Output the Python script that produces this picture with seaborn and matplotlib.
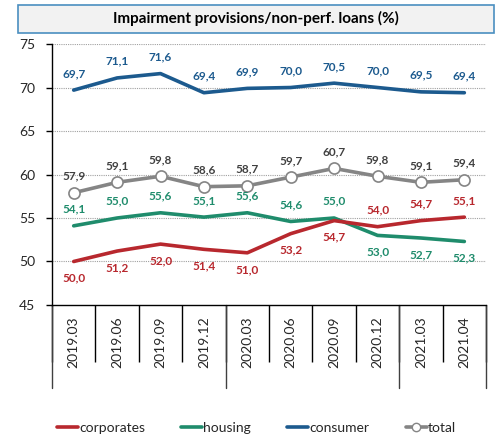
import numpy as np
import pandas as pd
import matplotlib
matplotlib.use("Agg")
import matplotlib.pyplot as plt
import matplotlib.patches as mpatches
from matplotlib.lines import Line2D
import seaborn as sns

categories = ["2019.03", "2019.06", "2019.09", "2019.12", "2020.03",
              "2020.06", "2020.09", "2020.12", "2021.03", "2021.04"]
corporates = [50.0, 51.2, 52.0, 51.4, 51.0, 53.2, 54.7, 54.0, 54.7, 55.1]
housing = [54.1, 55.0, 55.6, 55.1, 55.6, 54.6, 55.0, 53.0, 52.7, 52.3]
consumer = [69.7, 71.1, 71.6, 69.4, 69.9, 70.0, 70.5, 70.0, 69.5, 69.4]
total = [57.9, 59.1, 59.8, 58.6, 58.7, 59.7, 60.7, 59.8, 59.1, 59.4]
yticks = [45, 50, 55, 60, 65, 70, 75]
title = "Impairment provisions/non-perf. loans (%)"

# label placement: +1 above, -1 below
corp_pos = [-1, -1, -1, -1, -1, -1, -1, 1, 1, 1]
hous_pos = [1, 1, 1, 1, 1, 1, 1, -1, -1, -1]

sns.set_style("white")
plt.rcParams["font.family"] = ["Lato", "DejaVu Sans"]

colors = {"corporates": "#b8282e", "housing": "#1f8c6c",
          "consumer": "#1c5a8e", "total": "#858585"}
label_colors = {"corporates": "#b8282e", "housing": "#1f8c6c",
                "consumer": "#1c5a8e", "total": "#404040"}

fig = plt.figure(figsize=(4.98, 4.41), dpi=100)
ax = fig.add_axes([0.1044, 0.3084, 0.8716, 0.5918])

x = np.arange(len(categories))
series = [("total", total, [1] * 10),
          ("housing", housing, hous_pos),
          ("corporates", corporates, corp_pos),
          ("consumer", consumer, [1] * 10)]

for name, vals, pos in series:
    df = pd.DataFrame({"x": x, "y": vals})
    if name == "total":
        sns.lineplot(data=df, x="x", y="y", ax=ax, color=colors[name], lw=2.6,
                     marker="o", markersize=8, markerfacecolor="white",
                     markeredgecolor=colors[name], markeredgewidth=1.2, zorder=3)
    else:
        sns.lineplot(data=df, x="x", y="y", ax=ax, color=colors[name], lw=2.6, zorder=3)
    for xi, v, p in zip(x, vals, pos):
        ax.annotate(f"{v:.1f}".replace(".", ","), (xi, v),
                    xytext=(0, 12 * p), textcoords="offset points",
                    ha="center", va="center", fontsize=8.5, fontweight="bold",
                    color=label_colors[name])

ax.set_xlim(-0.5, len(categories) - 0.5)
ax.set_ylim(45, 75)
ax.set_yticks(yticks)
ax.set_yticklabels([str(t) for t in yticks], fontsize=10)
ax.tick_params(axis="y", which="major", length=4, width=1, direction="out",
               left=True, pad=8, color="black")
for t in yticks[1:]:
    ax.axhline(t, color="#a0a0a0", lw=0.8, ls=(0, (1, 1)), zorder=1)

ax.set_xticks(x)
ax.set_xticklabels(categories, rotation=90, fontsize=10, va="top")
ax.tick_params(axis="x", which="major", length=0, pad=8)
ax.set_xticks(np.arange(-0.5, len(categories), 1.0), minor=True)
ax.tick_params(axis="x", which="minor", length=41, width=1, color="black",
               direction="out", bottom=True)
ax.set_xlabel("")
ax.set_ylabel("")

for s in ["top", "right"]:
    ax.spines[s].set_visible(False)
for s in ["left", "bottom"]:
    ax.spines[s].set_color("black")
    ax.spines[s].set_linewidth(1)

# year group separators
trans = ax.get_xaxis_transform()
for b in [-0.5, 3.5, 7.5, 9.5]:
    ax.plot([b, b], [0, -0.318], transform=trans, color="#404040", lw=1,
            clip_on=False)

# title box
fig.patches.append(mpatches.Rectangle((0.036, 0.925), 0.956, 0.0635,
                                      transform=fig.transFigure,
                                      facecolor="#f2f2f2", edgecolor="#4a8fc0",
                                      lw=1.2))
fig.text(0.514, 0.957, title, ha="center", va="center", fontsize=11,
         fontweight="bold", color="black")

handles = [Line2D([], [], color=colors["corporates"], lw=2.6),
           Line2D([], [], color=colors["housing"], lw=2.6),
           Line2D([], [], color=colors["consumer"], lw=2.6),
           Line2D([], [], color=colors["total"], lw=2.6, marker="o",
                  markersize=6, markerfacecolor="white",
                  markeredgecolor=colors["total"])]
fig.legend(handles, ["corporates", "housing", "consumer", "total"],
           loc="center", bbox_to_anchor=(0.515, 0.03), ncol=4, frameon=False,
           fontsize=10, handlelength=1.5, handletextpad=0.1, columnspacing=2.6)

fig.savefig("out.png", dpi=100)
